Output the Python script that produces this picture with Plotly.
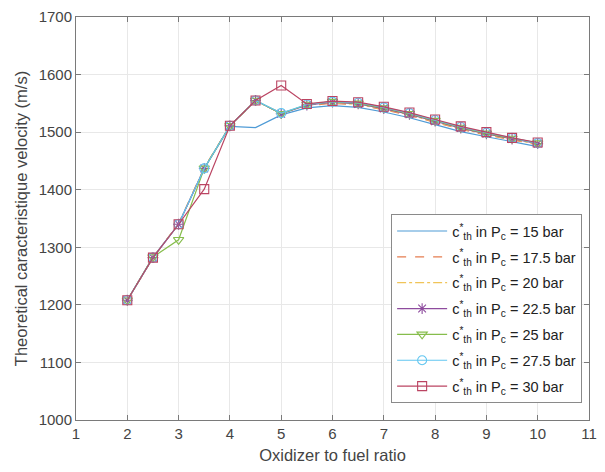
import plotly.graph_objects as go

of_ratio = [2, 2.5, 3, 3.5, 4, 4.5, 5, 5.5, 6, 6.5, 7, 7.5, 8, 8.5, 9, 9.5, 10]

c_15 = [1208, 1283, 1340, 1437, 1510, 1508, 1530, 1542, 1546, 1543, 1535, 1525, 1513, 1501, 1492, 1483, 1475]
c_17_5 = [1208, 1282, 1341, 1438, 1511, 1554, 1533, 1546, 1550, 1547, 1539, 1529, 1517, 1505, 1495, 1486, 1478]
c_20 = [1208, 1282, 1341, 1438, 1511, 1554, 1533, 1547, 1551, 1548, 1540, 1530, 1518, 1506, 1496, 1487, 1479]
c_22_5 = [1208, 1282, 1340, 1437, 1511, 1555, 1532, 1547, 1552, 1549, 1541, 1531, 1519, 1507, 1497, 1488, 1480]
c_25 = [1208, 1283, 1313, 1437, 1511, 1555, 1532, 1548, 1553, 1550, 1542, 1532, 1520, 1508, 1498, 1489, 1481]
c_27_5 = [1208, 1282, 1340, 1437, 1511, 1555, 1533, 1548, 1553, 1551, 1543, 1533, 1521, 1509, 1499, 1490, 1481]
c_30 = [1208, 1282, 1340, 1401, 1511, 1555, 1581, 1549, 1554, 1552, 1544, 1534, 1522, 1510, 1500, 1490, 1482]

pressures = ["15", "17.5", "20", "22.5", "25", "27.5", "30"]
series = [c_15, c_17_5, c_20, c_22_5, c_25, c_27_5, c_30]
colors = ["#4f9bd6", "#e57d50", "#f0c458", "#8e4c9e", "#86bd4c", "#62c6f0", "#bb4462"]
dashes = ["solid", "dash", "dashdot", "solid", "solid", "solid", "solid"]
markers = [None, None, None, "asterisk-open", "triangle-down-open", "circle-open", "square-open"]

x_ticks = list(range(1, 12))
y_ticks = list(range(1000, 1701, 100))

fig = go.Figure()
for p, vals, col, dash, mk in zip(pressures, series, colors, dashes, markers):
    kw = dict(
        x=of_ratio, y=vals,
        name=f"c<sup>*</sup><sub>th</sub> in P<sub>c</sub> = {p} bar",
        legendgroup=p,
        line=dict(color=col, width=1.2, dash=dash),
    )
    if mk:
        kw["mode"] = "lines+markers"
        kw["marker"] = dict(symbol=mk, size=9, color=col, line=dict(color=col, width=1.1))
    else:
        kw["mode"] = "lines"
    fig.add_trace(go.Scatter(**kw))

axis_common = dict(
    showgrid=True, gridcolor="#e8e8e8", gridwidth=1,
    showline=True, linecolor="#7a7a7a", linewidth=1, mirror="ticks",
    ticks="inside", ticklen=5, tickcolor="#7a7a7a",
    tickfont=dict(size=15, color="#444444"), zeroline=False,
)

fig.update_layout(
    width=605, height=472,
    margin=dict(l=76, r=8, t=15, b=52),
    paper_bgcolor="white", plot_bgcolor="white",
    font=dict(family="Liberation Sans, Arial, sans-serif", color="#444444"),
    xaxis=dict(range=[1, 11], tickvals=x_ticks,
               title=dict(text="Oxidizer to fuel ratio", font=dict(size=16.5, color="#444444"), standoff=8),
               **axis_common),
    yaxis=dict(range=[1000, 1700], tickvals=y_ticks,
               title=dict(text="Theoretical caracteristique velocity (m/s)", font=dict(size=16.5, color="#444444"), standoff=6),
               **axis_common),
    legend=dict(
        x=0.9866, y=0.042, xanchor="right", yanchor="bottom",
        bgcolor="white", bordercolor="#8a8a8a", borderwidth=1,
        font=dict(size=14.5, color="#222222"),
        itemwidth=50, tracegroupgap=4,
    ),
    showlegend=True,
)

fig.write_html("out.html")
